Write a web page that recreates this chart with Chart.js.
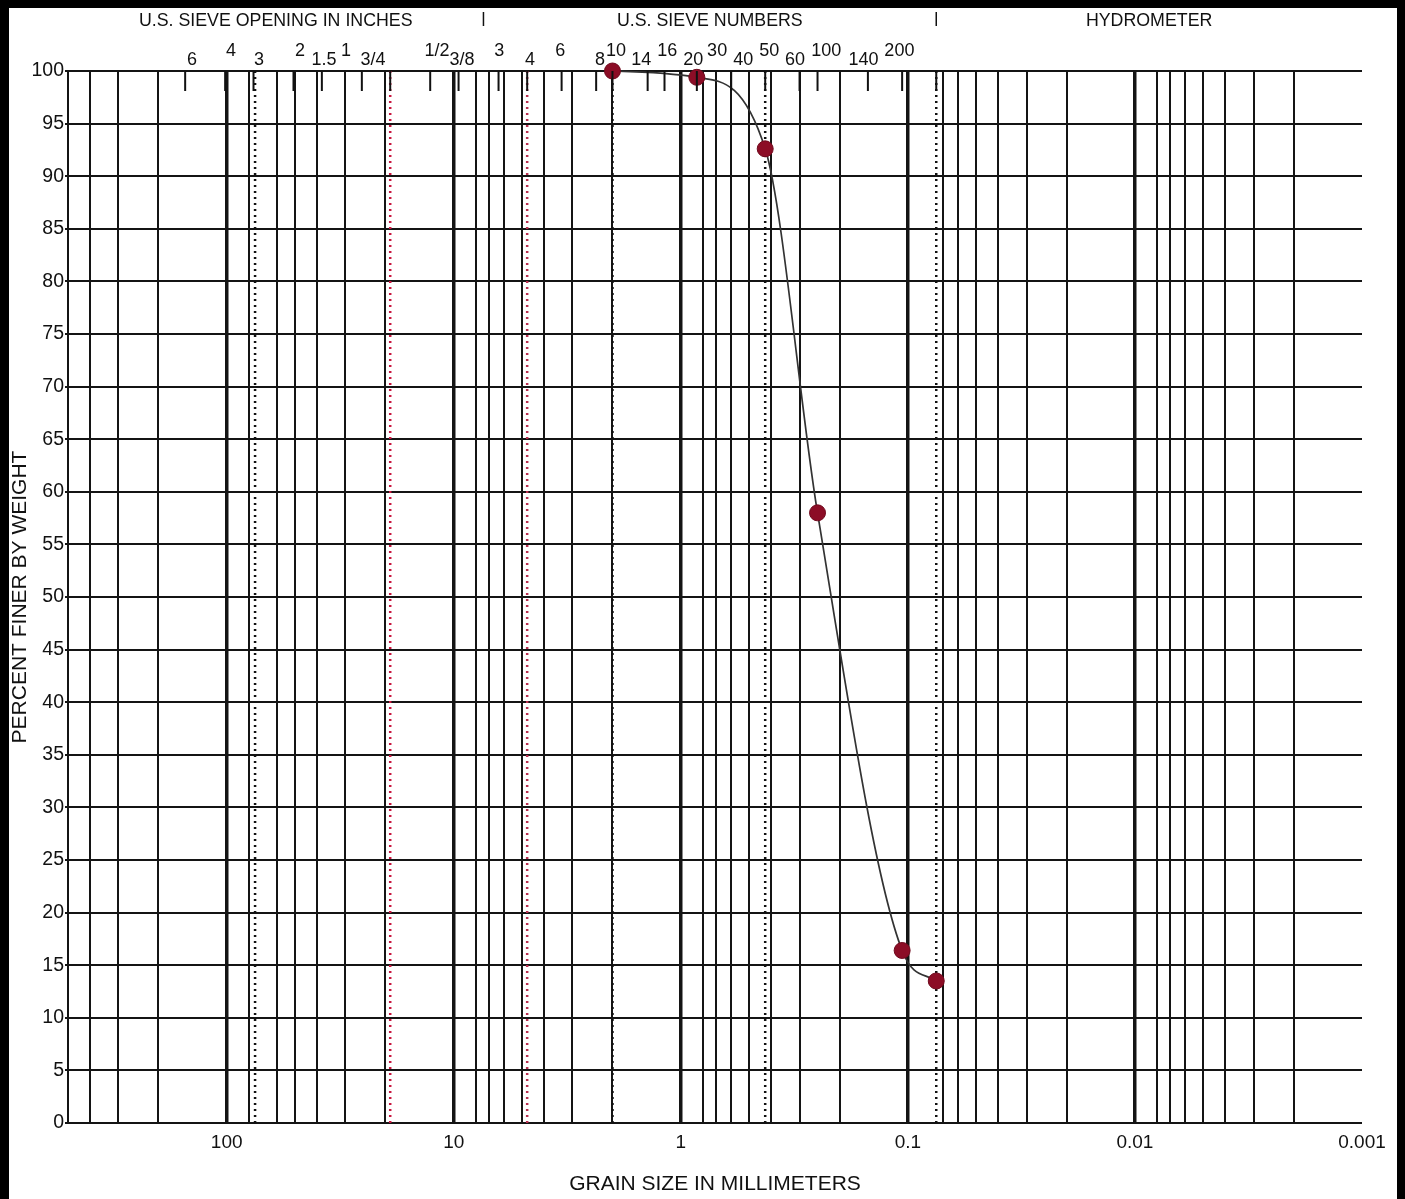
<!DOCTYPE html>
<html>
<head>
<meta charset="utf-8">
<title>Grain size distribution</title>
<script src="https://cdn.jsdelivr.net/npm/chart.js@4.4.1/dist/chart.umd.min.js"></script>
<style>
  html, body { margin: 0; padding: 0; background: #fff; }
  canvas { display: block; }
</style>
</head>
<body>
<canvas id="gradation" width="1405" height="1199"></canvas>
<script>
// sieve results: grain size (mm) and percent passing
const grainSizeMm = [2.0, 0.85, 0.425, 0.25, 0.106, 0.075];
const percentFiner = [100, 99.4, 92.6, 58.0, 16.4, 13.5];

// axis ticks
const percentTicks = [0, 5, 10, 15, 20, 25, 30, 35, 40, 45, 50, 55, 60, 65, 70, 75, 80, 85, 90, 95, 100];
const xTickValues = [100, 10, 1, 0.1, 0.01, 0.001];
const xTickLabels = ['100', '10', '1', '0.1', '0.01', '0.001'];
const decades = [0.001, 0.01, 0.1, 1, 10, 100];
// the printed form has no 9x lines, and the dotted boundaries stand in for 70 and 0.08
const gridMultipliers = [1, 2, 3, 4, 5, 6, 7, 8];
const gridSkipMm = [70, 0.08];

// top scale: sieve openings in inches, then US sieve numbers
const inchLabels = ['6', '4', '3', '2', '1.5', '1', '3/4', '1/2', '3/8'];
const inchSizesMm = [152.4, 101.6, 76.2, 50.8, 38.1, 25.4, 19.05, 12.7, 9.525];
const sieveLabels = ['3', '4', '6', '8', '10', '14', '16', '20', '30', '40', '50', '60', '100', '140', '200'];
const sieveSizesMm = [6.35, 4.75, 3.35, 2.36, 2.0, 1.4, 1.18, 0.85, 0.6, 0.425, 0.3, 0.25, 0.15, 0.106, 0.075];
// where each label text sits on the printed form (mm)
const inchLabelAt = [142, 95.7, 72.1, 47.5, 37.3, 29.8, 22.7, 11.84, 9.19];
const sieveLabelAt = [6.31, 4.61, 3.40, 2.27, 1.93, 1.495, 1.148, 0.882, 0.692, 0.531, 0.408, 0.314, 0.229, 0.157, 0.109];

// soil class boundaries (dotted) and header section breaks
const boundaryMm = [75, 19.05, 4.75, 2.0, 0.425, 0.075];
const boundaryColors = ['#111', '#c8173f', '#b83050', '#111', '#111', '#111'];
const sectionBreaksMm = [7.4, 0.075];
const sectionTitles = ['U.S. SIEVE OPENING IN INCHES', 'U.S. SIEVE NUMBERS', 'HYDROMETER'];

const FONT = '"Liberation Sans", Arial, sans-serif';
const INK = '#111';
const GRID = '#141414';

const near = (a, b) => Math.abs(Math.log10(a) - Math.log10(b)) < 1e-6;

const gridMm = [];
decades.forEach(d => {
  gridMultipliers.forEach(m => {
    const v = d * m;
    if (v <= 500 && !gridSkipMm.some(s => near(s, v))) gridMm.push(v);
  });
});
gridMm.push(500);

function decadeLabel(v) {
  const i = xTickValues.findIndex(t => near(t, v));
  return i >= 0 ? xTickLabels[i] : '';
}

function gridWidth(c) {
  if (!c.tick) return 2;
  if (near(c.tick.value, 0.001)) return 0; // the form has no line at the right edge
  return xTickValues.some(t => near(t, c.tick.value)) ? 3.5 : 2;
}

const sieveLines = {
  id: 'sieveLines',
  beforeDatasetsDraw(chart) {
    const { ctx, chartArea: a, scales: { x } } = chart;
    ctx.save();
    ctx.lineWidth = 2.5;
    ctx.setLineDash([2, 4]);
    boundaryMm.forEach((mm, i) => {
      const px = x.getPixelForValue(mm);
      ctx.strokeStyle = boundaryColors[i];
      ctx.beginPath();
      ctx.moveTo(px, a.top);
      ctx.lineTo(px, a.bottom);
      ctx.stroke();
    });
    ctx.restore();
  }
};

const topScale = {
  id: 'topScale',
  afterDraw(chart) {
    const { ctx, chartArea: a, scales: { x } } = chart;
    ctx.save();

    // short sieve ticks hanging from the top edge
    ctx.strokeStyle = INK;
    ctx.lineWidth = 2;
    inchSizesMm.concat(sieveSizesMm).forEach(mm => {
      const px = x.getPixelForValue(mm);
      ctx.beginPath();
      ctx.moveTo(px, a.top);
      ctx.lineTo(px, a.top + 20);
      ctx.stroke();
    });

    // staggered sieve labels
    ctx.fillStyle = INK;
    ctx.font = '18px ' + FONT;
    ctx.textAlign = 'center';
    ctx.textBaseline = 'middle';
    const labels = inchLabels.concat(sieveLabels);
    const at = inchLabelAt.concat(sieveLabelAt);
    labels.forEach((t, i) => {
      ctx.fillText(t, x.getPixelForValue(at[i]), i % 2 ? a.top - 20 : a.top - 11);
    });

    // section headings and the little breaks between them
    const breaks = sectionBreaksMm.map(mm => x.getPixelForValue(mm));
    ctx.lineWidth = 1.5;
    breaks.forEach(px => {
      ctx.beginPath();
      ctx.moveTo(px, 12);
      ctx.lineTo(px, 26);
      ctx.stroke();
    });
    const edges = [a.left].concat(breaks, [a.right]);
    ctx.font = '17.8px ' + FONT;
    sectionTitles.forEach((t, i) => {
      ctx.fillText(t, (edges[i] + edges[i + 1]) / 2, 21);
    });

    // black frame of the scanned sheet
    ctx.fillStyle = '#000';
    ctx.fillRect(0, 0, chart.width, 8);
    ctx.fillRect(0, 0, 9, chart.height);
    ctx.fillRect(chart.width - 8, 0, 8, chart.height);
    ctx.restore();
  }
};

Chart.defaults.font.family = FONT;
Chart.defaults.color = INK;

new Chart(document.getElementById('gradation'), {
  type: 'scatter',
  data: {
    datasets: [{
      data: grainSizeMm.map((mm, i) => ({ x: mm, y: percentFiner[i] })),
      showLine: true,
      borderColor: '#333',
      borderWidth: 1.7,
      cubicInterpolationMode: 'monotone',
      pointRadius: 8,
      pointBackgroundColor: '#8c0d26',
      pointBorderColor: '#700a1e',
      pointBorderWidth: 1,
      clip: false
    }]
  },
  options: {
    responsive: false,
    animation: false,
    devicePixelRatio: 1,
    layout: { padding: { top: 71, left: 0, right: 43, bottom: 0 } },
    plugins: { legend: { display: false }, tooltip: { enabled: false } },
    scales: {
      x: {
        type: 'logarithmic',
        reverse: true,
        min: 0.001,
        max: 500,
        afterBuildTicks: s => { s.ticks = gridMm.map(v => ({ value: v })); },
        afterFit: s => { s.height = 76; },
        ticks: {
          autoSkip: false,
          maxRotation: 0,
          minRotation: 0,
          padding: 8,
          font: { size: 19 },
          color: INK,
          callback: v => decadeLabel(v)
        },
        grid: { color: GRID, lineWidth: gridWidth, drawTicks: false },
        border: { color: GRID, width: 2 },
        title: {
          display: true,
          text: 'GRAIN SIZE IN MILLIMETERS',
          font: { size: 21 },
          color: INK,
          padding: { top: 0, bottom: 2 }
        }
      },
      y: {
        min: 0,
        max: 100,
        afterBuildTicks: s => { s.ticks = percentTicks.map(v => ({ value: v })); },
        afterFit: s => { s.width = 68; },
        ticks: { padding: 1, font: { size: 19.5 }, color: INK },
        grid: { color: GRID, lineWidth: 2, tickLength: 3 },
        border: { color: GRID, width: 2 },
        title: {
          display: true,
          text: 'PERCENT FINER BY WEIGHT',
          font: { size: 21 },
          color: INK,
          padding: { top: 8, bottom: 0 }
        }
      }
    }
  },
  plugins: [sieveLines, topScale]
});
</script>
</body>
</html>
